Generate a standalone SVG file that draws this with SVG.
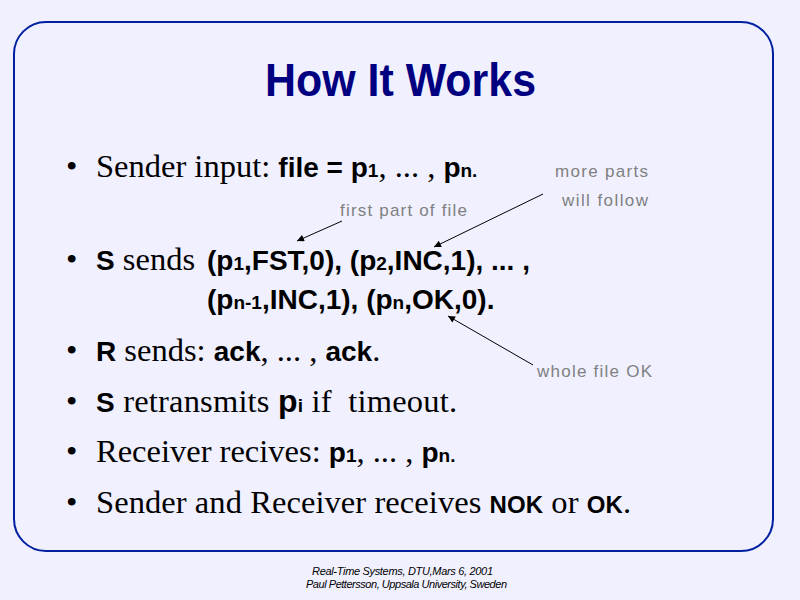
<svg xmlns="http://www.w3.org/2000/svg" width="800" height="600" viewBox="0 0 800 600">
<defs>
<style>
.serif{font-family:"Liberation Serif","Times New Roman",serif;font-size:32.5px;fill:#000}
.b{font-family:"Liberation Sans",Arial,sans-serif;font-weight:bold;font-size:28px}
.bp{font-family:"Liberation Sans",Arial,sans-serif;font-weight:bold;font-size:32px}
.sm{font-family:"Liberation Sans",Arial,sans-serif;font-weight:bold;font-size:19px}
.ok{font-family:"Liberation Sans",Arial,sans-serif;font-weight:bold;font-size:24px}
.note{font-family:"Liberation Sans",Arial,sans-serif;font-size:17px;fill:#808080}
.foot{font-family:"Liberation Sans",Arial,sans-serif;font-style:italic;font-size:11px;fill:#000}
.conn{stroke:#000;stroke-width:1;fill:none;marker-end:url(#ah)}
</style>
<marker id="ah" viewBox="0 0 10 10" refX="10" refY="5" markerWidth="9" markerHeight="7" markerUnits="userSpaceOnUse" orient="auto">
<path d="M0,0 L10,5 L0,10 z" fill="#000"/>
</marker>
</defs>
<rect x="0" y="0" width="800" height="600" fill="#F0F0FF"/>
<rect id="frame" x="14" y="22" width="759" height="529" rx="32" ry="32" fill="none" stroke="#0020A0" stroke-width="2"/>
<text id="title" x="265" y="96" textLength="271" lengthAdjust="spacingAndGlyphs" font-family="Liberation Sans, Arial, sans-serif" font-weight="bold" font-size="47" fill="#000080">How It Works</text>

<g id="bullets" class="serif">
<text x="66" y="177">•</text>
<text x="66" y="270">•</text>
<text x="66" y="361">•</text>
<text x="66" y="412">•</text>
<text x="66" y="462">•</text>
<text x="66" y="513">•</text>
</g>

<g id="line1"><text class="serif" x="96" y="177">Sender input: <tspan class="b">file = p</tspan><tspan class="sm">1</tspan>, ... , <tspan class="b">p</tspan><tspan class="sm">n.</tspan></text></g>
<g id="line2"><text class="serif" x="96" y="270"><tspan class="b">S</tspan> sends</text>
<text class="b" x="207" y="270">(p<tspan class="sm">1</tspan>,FST,0), (p<tspan class="sm">2</tspan>,INC,1), ... ,</text></g>
<g id="line3"><text class="b" x="207" y="309">(p<tspan class="sm">n-1</tspan>,INC,1), (p<tspan class="sm">n</tspan>,OK,0).</text></g>
<g id="line4"><text class="serif" x="96" y="361"><tspan class="b">R</tspan> sends: <tspan class="b">ack</tspan>, ... , <tspan class="b">ack</tspan>.</text></g>
<g id="line5"><text class="serif" x="96" y="412" xml:space="preserve" textLength="361"><tspan class="b">S</tspan> retransmits <tspan class="bp">p</tspan><tspan class="sm">i</tspan> if  timeout.</text></g>
<g id="line6"><text class="serif" x="96" y="462">Receiver recives: <tspan class="b">p</tspan><tspan class="sm">1</tspan>, ... , <tspan class="b">p</tspan><tspan class="sm">n.</tspan></text></g>
<g id="line7"><text class="serif" x="96" y="513" textLength="535">Sender and Receiver receives <tspan class="ok">NOK</tspan> or <tspan class="ok">OK</tspan>.</text></g>

<g id="note-more"><text class="note" x="555" y="177" textLength="93">more parts</text>
<text class="note" x="562" y="206" textLength="86">will follow</text></g>
<g id="note-first"><text class="note" x="340" y="216" textLength="127">first part of file</text></g>
<g id="note-whole"><text class="note" x="537" y="377" textLength="115">whole file OK</text></g>

<g id="connectors">
<line class="conn" x1="342" y1="221" x2="297" y2="241"/>
<line class="conn" x1="543" y1="194" x2="434" y2="247"/>
<line class="conn" x1="533" y1="365" x2="448" y2="316"/>
</g>

<g id="footer">
<text class="foot" x="312" y="575" textLength="181">Real-Time Systems, DTU,Mars 6, 2001</text>
<text class="foot" x="306" y="588" textLength="201">Paul Pettersson, Uppsala University, Sweden</text>
</g>
</svg>
